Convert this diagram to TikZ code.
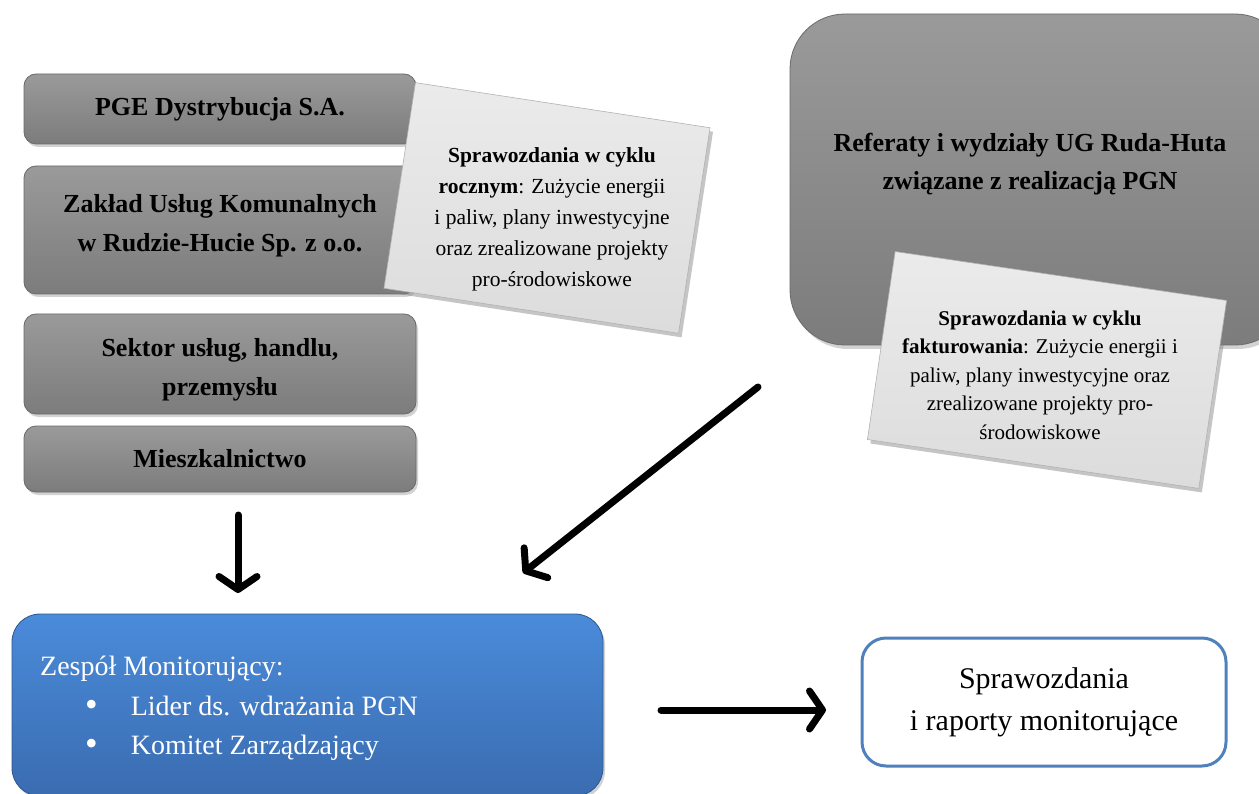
\documentclass[tikz,border=0pt]{standalone}
\usepackage{fontspec}
\setmainfont{Liberation Serif}
\usetikzlibrary{arrows.meta,shadows}
\definecolor{gboxtop}{HTML}{9A9A9A}
\definecolor{gboxbot}{HTML}{7C7C7C}
\definecolor{gboxline}{HTML}{6A6A6A}
\definecolor{lboxtop}{HTML}{EBEBEB}
\definecolor{lboxbot}{HTML}{DCDCDC}
\definecolor{bluetop}{HTML}{4A8BDA}
\definecolor{bluebot}{HTML}{3A6CB0}
\definecolor{bordblue}{HTML}{4F81BD}
\newcommand{\bigbul}{{\fontsize{36}{36}\selectfont\textbullet}}
\tikzset{
  graybox/.style={draw=gboxline, line width=0.8pt, rounded corners=12pt,
    top color=gboxtop, bottom color=gboxbot,
    drop shadow={shadow xshift=2pt, shadow yshift=-3pt, opacity=0.35},
    font=\fontsize{26}{39}\selectfont\bfseries, align=center, text=black},
  notebox/.style={draw=gray!60, line width=0.6pt, top color=lboxtop, bottom color=lboxbot,
    drop shadow={shadow xshift=3pt, shadow yshift=-4pt, opacity=0.45}},
  notetext/.style={font=\fontsize{21.5}{31}\selectfont, align=center, text=black},
  bigbox/.style={draw=gboxline, line width=0.8pt, rounded corners=55pt,
    top color=gboxtop, bottom color=gboxbot,
    drop shadow={shadow xshift=3pt, shadow yshift=-4pt, opacity=0.35}},
  bluebox/.style={draw=bluebot!80!black, line width=0.8pt, rounded corners=28pt,
    top color=bluetop, bottom color=bluebot,
    drop shadow={shadow xshift=2pt, shadow yshift=-3pt, opacity=0.35}},
  whitebox/.style={draw=bordblue, line width=3pt, rounded corners=24pt, fill=white,
    font=\fontsize{30}{42}\selectfont, align=center},
  arr/.style={line width=7pt, line cap=round, draw=black,
    -{Straight Barb[round, length=13pt, width=38pt]}},
}
\begin{document}
\begin{tikzpicture}[x=1pt,y=-1pt]
\clip (0,0) rectangle (1259,794);
\useasboundingbox (0,0) rectangle (1259,794);
\fill[white] (0,0) rectangle (1259,794);

% left gray boxes
\node[graybox, minimum width=392, minimum height=70] (pge) at (220,109) {PGE Dystrybucja S.A.};
\node[graybox, minimum width=392, minimum height=128, text depth=14pt] (zak) at (220,230) {Zakład Usług Komunalnych\\w Rudzie-Hucie Sp. z o.o.};
\node[graybox, minimum width=392, minimum height=100] (sek) at (220,364) {\rule{0pt}{30pt}Sektor usług, handlu,\\przemysłu};
\node[graybox, minimum width=392, minimum height=66] (mie) at (220,459) {Mieszkalnictwo};

% annotation 1
\node[notebox, rotate=-8.7, minimum width=298, minimum height=208] (ann1) at (547,208) {};
\node[notetext] (ann1t) at (552,219) {\textbf{Sprawozdania w cyklu}\\\textbf{rocznym}: Zużycie energii\\i paliw, plany inwestycyjne\\oraz zrealizowane projekty\\pro-środowiskowe};

% big gray box right
\node[bigbox, minimum width=500, minimum height=331] (ref) at (1040,179.5) {};
\node[font=\fontsize{26}{38}\selectfont\bfseries, align=center] (reft) at (1030,164) {Referaty i wydziały UG Ruda-Huta\\związane z realizacją PGN};

% annotation 2
\node[notebox, rotate=-8.4, minimum width=335, minimum height=190] (ann2) at (1047,370) {};
\node[notetext, font=\fontsize{21}{28.5}\selectfont] (ann2t) at (1040,375) {\textbf{Sprawozdania w cyklu}\\\textbf{fakturowania}: Zużycie energii i\\paliw, plany inwestycyjne oraz\\zrealizowane projekty pro-\\środowiskowe};

% blue box
\node[bluebox, minimum width=591, minimum height=182] (team) at (307.5,705) {};
\node[anchor=north west, text=white, font=\fontsize{28}{39.5}\selectfont, align=left, inner sep=0pt] (teamt) at (40,648)
 {\begin{tabular}{@{}l@{}}Zespół Monitorujący:\\
  \hspace{45pt}\raisebox{-1pt}{\bigbul}\hspace{33pt}Lider ds. wdrażania PGN\\
  \hspace{45pt}\raisebox{-1pt}{\bigbul}\hspace{33pt}Komitet Zarządzający\end{tabular}};

% white box
\node[whitebox, minimum width=364, minimum height=128] (rep) at (1044,702) {Sprawozdania\\i raporty monitorujące};

% arrows
\coordinate (d1) at (238,515);
\coordinate (d2) at (238,593);
\draw[arr] (d1) -- (d2);
\coordinate (g1) at (758,387);
\coordinate (g2) at (523,573);
\draw[arr] (g1) -- (g2);
\coordinate (r1) at (661,710);
\coordinate (r2) at (826,710);
\draw[arr] (r1) -- (r2);
\end{tikzpicture}
\end{document}
